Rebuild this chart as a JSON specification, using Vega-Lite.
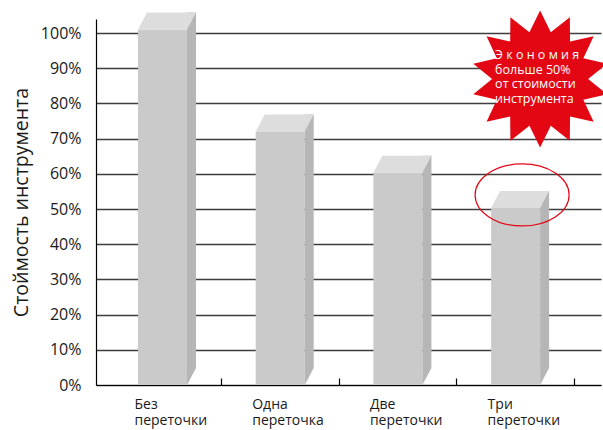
{
  "$schema": "https://vega.github.io/schema/vega-lite/v6.json",
  "width": 505,
  "height": 366,
  "autosize": {"type": "none"},
  "padding": {"left": 96, "top": 19, "right": 2, "bottom": 45},
  "background": "white",
  "config": {"view": {"stroke": null}, "font": "Open Sans"},
  "datasets": {
    "bars": [
      {"cat": "Без переточки", "v": 101},
      {"cat": "Одна переточка", "v": 72},
      {"cat": "Две переточки", "v": 60.3},
      {"cat": "Три переточки", "v": 50.3}
    ]
  },
  "encoding": {
    "x": {
      "field": "cat",
      "type": "nominal",
      "sort": ["Без переточки", "Одна переточка", "Две переточки", "Три переточки"],
      "scale": {"paddingInner": 0, "paddingOuter": 0.1453, "align": 0.224},
      "axis": {
        "title": null,
        "domainColor": "#000",
        "domainWidth": 1.2,
        "tickColor": "#000",
        "tickSize": -7,
        "tickWidth": 1.2,
        "bandPosition": 1,
        "labelAlign": "left",
        "labelBaseline": "top",
        "labelAngle": 0,
        "labelOffset": -28,
        "labelExpr": "split(datum.label, ' ')",
        "labelFontSize": 14,
        "labelLineHeight": 16,
        "labelColor": "#1a1a1a",
        "labelPadding": 19,
        "labelOverlap": false,
        "labelBound": false,
        "labelFlush": false
      }
    },
    "y": {
      "field": "v",
      "type": "quantitative",
      "scale": {"domain": [0, 104], "nice": false},
      "axis": {
        "title": "Стоймость инструмента",
        "values": [0, 10, 20, 30, 40, 50, 60, 70, 80, 90, 100],
        "labelExpr": "datum.value + '%'",
        "ticks": false,
        "labelPadding": 15,
        "labelFontSize": 16,
        "labelColor": "#1a1a1a",
        "grid": true,
        "gridColor": "#3d3d3d",
        "gridWidth": 1.3,
        "gridOpacity": 1,
        "domainColor": "#000",
        "domainWidth": 1.2,
        "titleFontSize": 19.5,
        "titleFontWeight": "normal",
        "titleColor": "#1a1a1a",
        "titlePadding": 9
      }
    }
  },
  "layer": [
    {
      "data": {"name": "bars"},
      "mark": {"type": "bar", "width": 49, "color": "#c9cac9"},
      "encoding": {"y2": {"datum": 0}}
    },
    {
      "data": {"name": "bars"},
      "mark": {"type": "bar", "width": 9, "xOffset": 29, "yOffset": -17, "y2Offset": -17, "color": "#b5b6b5"},
      "encoding": {"y2": {"datum": 0}}
    },
    {
      "data": {"name": "bars"},
      "mark": {"type": "point", "shape": "M 24.5 -17 L 33.5 -17 L 24.5 0 Z", "size": 4, "filled": true, "color": "#b5b6b5", "strokeWidth": 0, "opacity": 1},
      "encoding": {
        "y": {
          "datum": 0,
          "type": "quantitative",
          "scale": {"domain": [0, 104], "nice": false},
          "axis": {
            "title": "Стоймость инструмента",
            "values": [0, 10, 20, 30, 40, 50, 60, 70, 80, 90, 100],
            "labelExpr": "datum.value + '%'",
            "ticks": false,
            "labelPadding": 15,
            "labelFontSize": 16,
            "labelColor": "#1a1a1a",
            "grid": true,
            "gridColor": "#3d3d3d",
            "gridWidth": 1.3,
            "gridOpacity": 1,
            "domainColor": "#000",
            "domainWidth": 1.2,
            "titleFontSize": 19.5,
            "titleFontWeight": "normal",
            "titleColor": "#1a1a1a",
            "titlePadding": 9
          }
        }
      }
    },
    {
      "data": {"name": "bars"},
      "mark": {"type": "point", "shape": "M -24.5 0 L 24.5 0 L 33.5 -17 L -15.5 -17 Z", "size": 4, "filled": true, "color": "#dcdddc", "strokeWidth": 0, "opacity": 1}
    },
    {
      "data": {"values": [{"cat": "Три переточки", "v": 54}]},
      "mark": {"type": "point", "shape": "M -47 0 A 47 31 0 1 0 47 0 A 47 31 0 1 0 -47 0 Z", "size": 4, "filled": false, "stroke": "#e30613", "strokeWidth": 1.2, "opacity": 1, "xOffset": 6.5}
    },
    {
      "data": {"values": [{"cat": "Три переточки", "v": 86.95}]},
      "mark": {"type": "point", "shape": "M 0 -68.5 L 10.68 -46.8 L 29.72 -61.72 L 29.93 -37.53 L 53.55 -42.71 L 43.25 -20.83 L 66.78 -15.24 L 48 0 L 66.78 15.24 L 43.25 20.83 L 53.55 42.71 L 29.93 37.53 L 29.72 61.72 L 10.68 46.8 L 0 68.5 L -10.68 46.8 L -29.72 61.72 L -29.93 37.53 L -53.55 42.71 L -43.25 20.83 L -66.78 15.24 L -48 0 L -66.78 -15.24 L -43.25 -20.83 L -53.55 -42.71 L -29.93 -37.53 L -29.72 -61.72 L -10.68 -46.8 Z", "size": 4, "filled": true, "color": "#e30613", "strokeWidth": 0, "opacity": 1, "xOffset": 24.5}
    },
    {
      "data": {"values": [{"cat": "Три переточки", "v": 92.6, "label": "Э к о н о м и я\nбольше 50%\nот стоимости\nинструмента"}]},
      "mark": {"type": "text", "align": "left", "baseline": "alphabetic", "fontSize": 12.5, "lineHeight": 14.5, "lineBreak": "\n", "color": "white", "xOffset": -20.5},
      "encoding": {"text": {"field": "label"}}
    }
  ]
}
